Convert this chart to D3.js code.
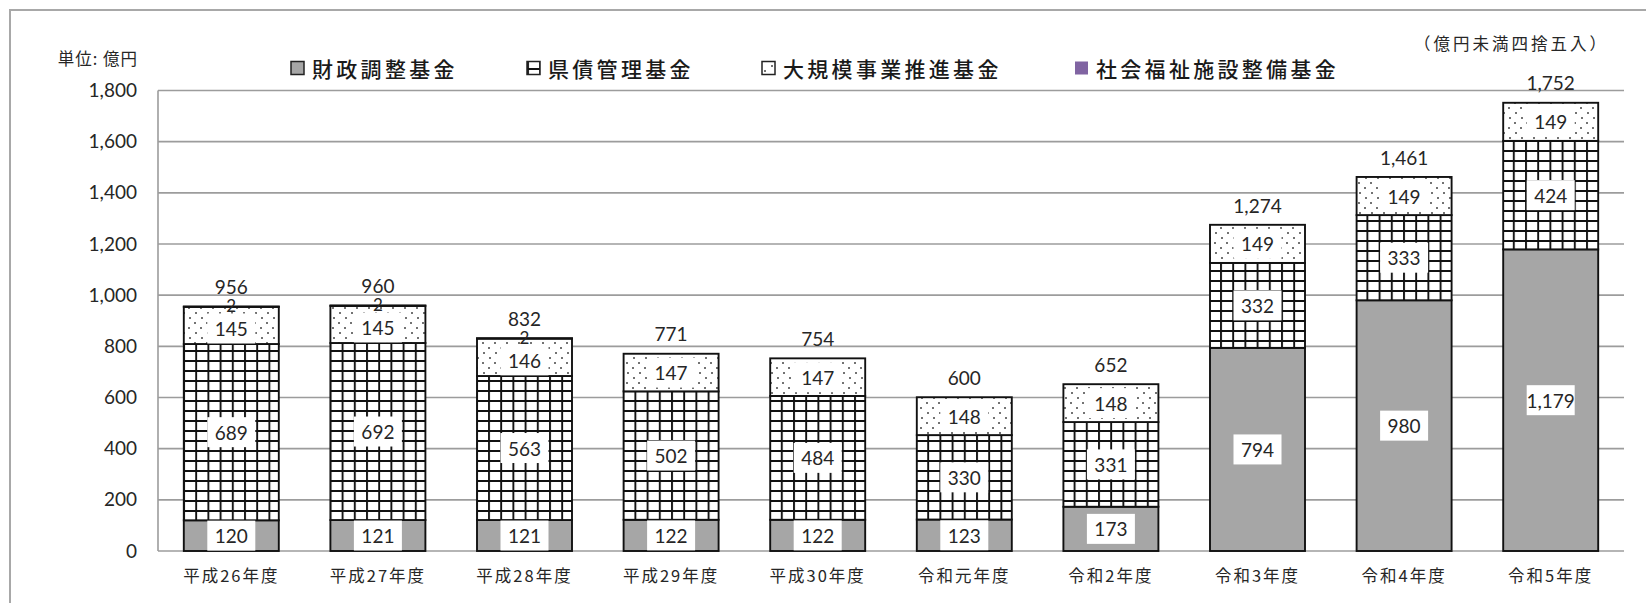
<!DOCTYPE html>
<html lang="ja">
<head>
<meta charset="utf-8">
<script src="https://cdn.jsdelivr.net/npm/d3@7"></script>
<style>
  html, body { margin: 0; padding: 0; background: #fff; }
  svg { display: block; }
  .jp { font-family: "Noto Sans CJK JP", "Noto Sans", sans-serif; fill: #262626; }
  .num { font-family: Lato, "Open Sans", sans-serif; fill: #262626; }
</style>
</head>
<body>
<svg id="chart" width="1646" height="603"></svg>
<script>
// 基金残高の推移（億円）
const categories = ["平成26年度", "平成27年度", "平成28年度", "平成29年度", "平成30年度",
                    "令和元年度", "令和2年度", "令和3年度", "令和4年度", "令和5年度"];
const seriesNames = ["財政調整基金", "県債管理基金", "大規模事業推進基金", "社会福祉施設整備基金"];
const zaiseiChosei = [120, 121, 121, 122, 122, 123, 173, 794, 980, 1179];
const kensaiKanri = [689, 692, 563, 502, 484, 330, 331, 332, 333, 424];
const daikiboJigyo = [145, 145, 146, 147, 147, 148, 148, 149, 149, 149];
const shakaiFukushi = [2, 2, 2, 0, 0, 0, 0, 0, 0, 0];
const totals = [956, 960, 832, 771, 754, 600, 652, 1274, 1461, 1752];
const yTicks = [0, 200, 400, 600, 800, 1000, 1200, 1400, 1600, 1800];
const unitLabel = "単位: 億円";
const noteLabel = "（億円未満四捨五入）";

const seriesValues = [zaiseiChosei, kensaiKanri, daikiboJigyo, shakaiFukushi];
const rows = categories.map((c, i) => {
  const r = { cat: c };
  seriesNames.forEach((s, k) => { r[s] = seriesValues[k][i]; });
  return r;
});
const stacked = d3.stack().keys(seriesNames)(rows);

const svg = d3.select("#chart");
const W = 1646, H = 603;
const plot = { left: 158, right: 1624, top: 90.5, bottom: 551 };

const x = d3.scaleBand().domain(categories)
  .range([plot.left, plot.right]).paddingInner(0.352).paddingOuter(0.176);
const y = d3.scaleLinear().domain([0, 1800]).range([plot.bottom, plot.top]);
const fmt = d3.format(",");

// パターン定義
const defs = svg.append("defs");
const grid = defs.append("pattern").attr("id", "pat-grid")
  .attr("patternUnits", "userSpaceOnUse").attr("width", 12.2).attr("height", 10);
grid.append("rect").attr("width", 12.2).attr("height", 10).attr("fill", "#fff");
grid.append("path").attr("d", "M0,1H12.2 M1,0V10")
  .attr("stroke", "#111").attr("stroke-width", 1.9).attr("fill", "none");

const dots = defs.append("pattern").attr("id", "pat-dots")
  .attr("patternUnits", "userSpaceOnUse").attr("width", 12).attr("height", 20);
dots.append("rect").attr("width", 12).attr("height", 20).attr("fill", "#fff");
dots.append("circle").attr("cx", 3).attr("cy", 3).attr("r", 1).attr("fill", "#444");
dots.append("circle").attr("cx", 9).attr("cy", 8).attr("r", 1).attr("fill", "#444");
dots.append("circle").attr("cx", 4).attr("cy", 13).attr("r", 1).attr("fill", "#444");
dots.append("circle").attr("cx", 10).attr("cy", 18).attr("r", 1).attr("fill", "#444");

const fills = ["#a6a6a6", "url(#pat-grid)", "url(#pat-dots)", "#8064a2"];

// 外枠
svg.append("rect").attr("x", 10).attr("y", 10)
  .attr("width", W + 20).attr("height", H + 20)
  .attr("fill", "none").attr("stroke", "#a8a8a8").attr("stroke-width", 2);

// 目盛線
svg.append("g").selectAll("line").data(yTicks).join("line")
  .attr("x1", plot.left).attr("x2", plot.right)
  .attr("y1", d => y(d)).attr("y2", d => y(d))
  .attr("stroke", "#9c9c9c").attr("stroke-width", 1.6);
svg.append("line")
  .attr("x1", plot.left).attr("x2", plot.left)
  .attr("y1", y(0)).attr("y2", y(1800))
  .attr("stroke", "#9c9c9c").attr("stroke-width", 1.6);

// Y軸ラベル
const yAxis = svg.append("g").attr("transform", `translate(${plot.left},0)`)
  .call(d3.axisLeft(y).tickValues(yTicks).tickSize(0).tickPadding(21).tickFormat(fmt));
yAxis.select(".domain").remove();
yAxis.selectAll("text").attr("class", "num").style("font-size", "19px");

// X軸ラベル
const xAxis = svg.append("g").attr("transform", `translate(0,${plot.bottom})`)
  .call(d3.axisBottom(x).tickSize(0).tickPadding(19));
xAxis.select(".domain").remove();
xAxis.selectAll("text").attr("class", "jp")
  .style("font-size", "16.5px").style("letter-spacing", "2px");

// 積み上げ棒
const layers = svg.append("g").selectAll("g").data(stacked).join("g")
  .attr("fill", (d, i) => fills[i]);
layers.selectAll("rect").data(d => d.filter(p => p[1] - p[0] > 0)).join("rect")
  .attr("x", p => x(p.data.cat))
  .attr("width", x.bandwidth())
  .attr("y", p => y(p[1]))
  .attr("height", p => y(p[0]) - y(p[1]))
  .attr("stroke", "#111").attr("stroke-width", 1.9);

// 値ラベル（上に小さな区分がある場合は少し下げる）
const labelG = svg.append("g");
stacked.forEach((layer, k) => {
  layer.forEach((p, i) => {
    const v = p[1] - p[0];
    if (v <= 0) return;
    const cx = x(p.data.cat) + x.bandwidth() / 2;
    let cy = (y(p[0]) + y(p[1])) / 2;
    if (k === 2 && shakaiFukushi[i] > 0) cy += 3;
    if (k === 3) cy -= 1;
    if (k < 3) {
      labelG.append("rect")
        .attr("x", cx - 24).attr("y", cy - 15)
        .attr("width", 48).attr("height", 30).attr("fill", "#fff");
    }
    labelG.append("text").attr("class", "num")
      .attr("x", cx).attr("y", cy)
      .attr("text-anchor", "middle").attr("dominant-baseline", "central")
      .style("font-size", k === 3 ? "17px" : "19px").text(fmt(v));
  });
});

// 合計ラベル
svg.append("g").selectAll("text").data(categories).join("text")
  .attr("class", "num")
  .attr("x", c => x(c) + x.bandwidth() / 2)
  .attr("y", (c, i) => y(totals[i]) - 20)
  .attr("text-anchor", "middle").attr("dominant-baseline", "central")
  .style("font-size", "19px")
  .text((c, i) => fmt(totals[i]));

// 凡例
const legendX = [291, 527, 762, 1075];
const legend = svg.append("g").selectAll("g").data(seriesNames).join("g")
  .attr("transform", (d, i) => `translate(${legendX[i]},68)`);
legend.append("rect")
  .attr("x", 0).attr("y", -6.5).attr("width", 13).attr("height", 13)
  .attr("fill", (d, i) => fills[i])
  .attr("stroke", (d, i) => i === 3 ? "none" : "#222").attr("stroke-width", 1.5);
legend.append("text").attr("class", "jp")
  .attr("x", 21).attr("y", 0).attr("dominant-baseline", "central")
  .style("font-size", "21px").style("letter-spacing", "3.3px")
  .style("font-weight", 500).style("fill", "#1a1a1a")
  .text(d => d);

// 単位・注記
svg.append("text").attr("class", "jp")
  .attr("x", 138).attr("y", 58).attr("text-anchor", "end")
  .attr("dominant-baseline", "central")
  .style("font-size", "16.5px").style("letter-spacing", "1px").text(unitLabel);
svg.append("text").attr("class", "jp")
  .attr("x", 1609).attr("y", 43).attr("text-anchor", "end")
  .attr("dominant-baseline", "central")
  .style("font-size", "16.5px").style("letter-spacing", "3px").text(noteLabel);
</script>
</body>
</html>
